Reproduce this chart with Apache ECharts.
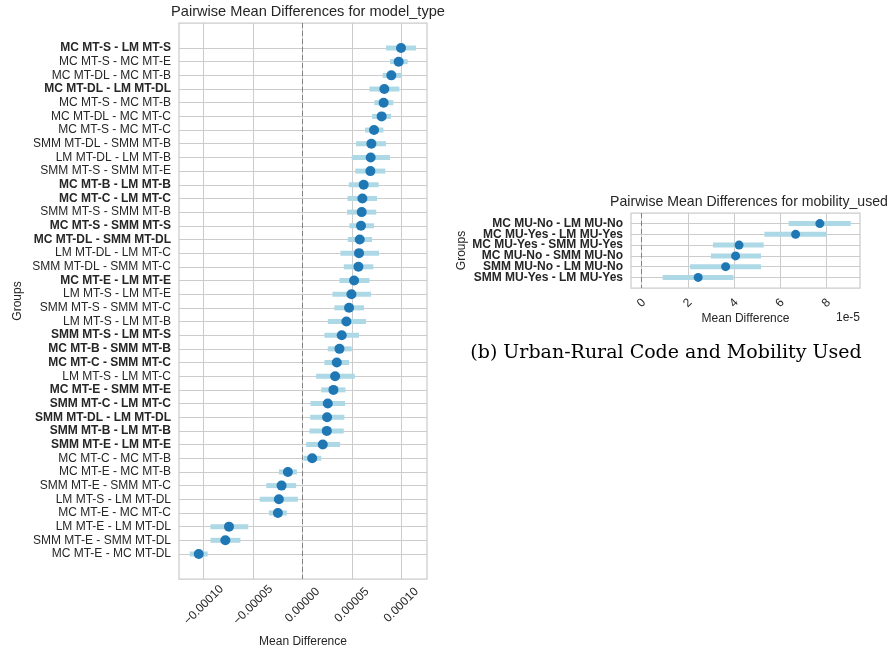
<!DOCTYPE html>
<html>
<head>
<meta charset="utf-8">
<title>Pairwise Mean Differences</title>
<script src="https://cdn.jsdelivr.net/npm/echarts@6/dist/echarts.min.js"></script>
<style>
  html, body { margin: 0; padding: 0; background: #fff; }
  #chart { width: 889px; height: 655px; }
</style>
</head>
<body>
<div id="chart"></div>
<script>
// model_type comparisons (top to bottom)
const modelGroups = [
  'MC MT-S - LM MT-S', 'MC MT-S - MC MT-E', 'MC MT-DL - MC MT-B', 'MC MT-DL - LM MT-DL',
  'MC MT-S - MC MT-B', 'MC MT-DL - MC MT-C', 'MC MT-S - MC MT-C', 'SMM MT-DL - SMM MT-B',
  'LM MT-DL - LM MT-B', 'SMM MT-S - SMM MT-E', 'MC MT-B - LM MT-B', 'MC MT-C - LM MT-C',
  'SMM MT-S - SMM MT-B', 'MC MT-S - SMM MT-S', 'MC MT-DL - SMM MT-DL', 'LM MT-DL - LM MT-C',
  'SMM MT-DL - SMM MT-C', 'MC MT-E - LM MT-E', 'LM MT-S - LM MT-E', 'SMM MT-S - SMM MT-C',
  'LM MT-S - LM MT-B', 'SMM MT-S - LM MT-S', 'MC MT-B - SMM MT-B', 'MC MT-C - SMM MT-C',
  'LM MT-S - LM MT-C', 'MC MT-E - SMM MT-E', 'SMM MT-C - LM MT-C', 'SMM MT-DL - LM MT-DL',
  'SMM MT-B - LM MT-B', 'SMM MT-E - LM MT-E', 'MC MT-C - MC MT-B', 'MC MT-E - MC MT-B',
  'SMM MT-E - SMM MT-C', 'LM MT-S - LM MT-DL', 'MC MT-E - MC MT-C', 'LM MT-E - LM MT-DL',
  'SMM MT-E - SMM MT-DL', 'MC MT-E - MC MT-DL'
];
const modelMean = [
  9.97e-5, 9.73e-5, 8.99e-5, 8.28e-5, 8.21e-5, 8.01e-5, 7.24e-5, 6.97e-5,
  6.90e-5, 6.87e-5, 6.19e-5, 6.06e-5, 5.99e-5, 5.92e-5, 5.79e-5, 5.72e-5,
  5.66e-5, 5.22e-5, 4.95e-5, 4.71e-5, 4.44e-5, 3.97e-5, 3.74e-5, 3.47e-5,
  3.30e-5, 3.13e-5, 2.56e-5, 2.49e-5, 2.46e-5, 2.05e-5, 0.98e-5, -1.48e-5,
  -2.12e-5, -2.39e-5, -2.49e-5, -7.44e-5, -7.81e-5, -10.5e-5
];
const modelLow = [
  8.45e-5, 8.85e-5, 8.11e-5, 6.77e-5, 7.27e-5, 7.04e-5, 6.33e-5, 5.42e-5,
  4.98e-5, 5.35e-5, 4.68e-5, 4.55e-5, 4.51e-5, 4.75e-5, 4.58e-5, 3.84e-5,
  4.18e-5, 3.74e-5, 3.03e-5, 3.23e-5, 2.56e-5, 2.22e-5, 2.56e-5, 2.22e-5,
  1.38e-5, 1.89e-5, 0.81e-5, 0.78e-5, 0.71e-5, 0.37e-5, 0.10e-5, -2.39e-5,
  -3.67e-5, -4.34e-5, -3.40e-5, -9.32e-5, -9.32e-5, -11.41e-5
];
const modelHigh = [
  11.48e-5, 10.64e-5, 9.97e-5, 9.80e-5, 9.19e-5, 8.96e-5, 8.18e-5, 8.45e-5,
  8.86e-5, 8.38e-5, 7.71e-5, 7.54e-5, 7.47e-5, 7.24e-5, 7.04e-5, 7.74e-5,
  7.17e-5, 6.77e-5, 6.94e-5, 6.23e-5, 6.43e-5, 5.72e-5, 4.98e-5, 4.71e-5,
  5.29e-5, 4.34e-5, 4.31e-5, 4.24e-5, 4.17e-5, 3.81e-5, 1.89e-5, -0.57e-5,
  -0.64e-5, -0.47e-5, -1.59e-5, -5.49e-5, -6.29e-5, -9.60e-5
];
const modelTicks = [-0.0001, -0.00005, 0, 0.00005, 0.0001];

// mobility_used comparisons
const mobilityGroups = [
  'MC MU-No - LM MU-No', 'MC MU-Yes - LM MU-Yes', 'MC MU-Yes - SMM MU-Yes',
  'MC MU-No - SMM MU-No', 'SMM MU-No - LM MU-No', 'SMM MU-Yes - LM MU-Yes'
];
const mobilityMean = [7.72e-5, 6.67e-5, 4.22e-5, 4.07e-5, 3.64e-5, 2.45e-5];
const mobilityLow = [6.37e-5, 5.32e-5, 3.09e-5, 3.00e-5, 2.10e-5, 0.91e-5];
const mobilityHigh = [9.06e-5, 8.01e-5, 5.29e-5, 5.17e-5, 5.17e-5, 3.98e-5];
const mobilityTicks = [0, 2e-5, 4e-5, 6e-5, 8e-5];

const FONT = "'Liberation Sans', Arial, sans-serif";
const TXT = '#262626';
const GRID_C = '#cccccc';
const H = 655;

// plot boxes (px): left, right, top, bottom, plus row padding in row units
const boxModel = { left: 179, right: 462, top: 23, bottom: 76, pad: 1.83 };
const boxMob = { left: 631, right: 29, top: 213, bottom: 367, pad: 0.98 };

// bold when both sides share the same level (e.g. MT-S vs MT-S)
function isBold(label) {
  const parts = label.split(' - ');
  return parts[0].split(' ')[1] === parts[1].split(' ')[1];
}
function idx(arr) { return arr.map((_, i) => i); }

// grid that holds only the category labels, one band per row
function labelGrid(box, n) {
  const step = (H - box.top - box.bottom) / (n - 1 + 2 * box.pad);
  const off = (box.pad - 0.5) * step;
  return { left: box.left, right: box.right, top: box.top + off, bottom: box.bottom + off, show: false };
}

function ciItem(params, api) {
  const a = api.coord([api.value(0), api.value(2)]);
  const b = api.coord([api.value(1), api.value(2)]);
  return {
    type: 'line',
    shape: { x1: a[0], y1: a[1], x2: b[0], y2: b[1] },
    style: { stroke: '#add8e6', lineWidth: 5 }
  };
}

function valueY(groups, gridIndex, pad) {
  return {
    type: 'value', gridIndex: gridIndex, inverse: true,
    min: -pad, max: groups.length - 1 + pad,
    axisLine: { show: false },
    axisTick: { show: false, customValues: idx(groups) },
    axisLabel: { show: false, customValues: idx(groups) },
    splitLine: { show: true, lineStyle: { color: GRID_C, width: 1 } }
  };
}

function categoryY(groups, gridIndex, nameGap) {
  return {
    type: 'category', gridIndex: gridIndex, inverse: true, data: groups,
    name: 'Groups', nameLocation: 'middle', nameGap: nameGap,
    nameTextStyle: { fontFamily: FONT, fontSize: 12, color: TXT },
    axisLine: { show: false }, axisTick: { show: false }, splitLine: { show: false },
    axisLabel: {
      interval: 0, margin: 8,
      formatter: s => (isBold(s) ? '{b|' : '{n|') + s + '}',
      rich: {
        n: { fontFamily: FONT, fontSize: 12, color: TXT },
        b: { fontFamily: FONT, fontSize: 12, color: TXT, fontWeight: 'bold' }
      }
    }
  };
}

function valueX(ticks, gridIndex, min, max, fmt, margin, nameGap) {
  return {
    type: 'value', gridIndex: gridIndex, min: min, max: max,
    name: 'Mean Difference', nameLocation: 'middle', nameGap: nameGap,
    nameTextStyle: { fontFamily: FONT, fontSize: 12, color: TXT },
    axisLine: { show: false },
    axisTick: { show: false, customValues: ticks },
    axisLabel: {
      customValues: ticks, rotate: 45, align: 'center', verticalAlign: 'middle',
      showMinLabel: true, showMaxLabel: true,
      margin: margin, fontFamily: FONT, fontSize: 12, color: TXT,
      formatter: fmt
    },
    splitLine: { show: true, lineStyle: { color: GRID_C, width: 1 } }
  };
}
function hiddenX(gridIndex) {
  return { type: 'value', gridIndex: gridIndex, show: false };
}

const zeroLine = {
  silent: true, symbol: 'none', label: { show: false },
  lineStyle: { color: '#808080', type: [5, 3], width: 1 },
  data: [{ xAxis: 0 }]
};

function plotGrid(box) {
  return { left: box.left, right: box.right, top: box.top, bottom: box.bottom, show: true,
    borderColor: GRID_C, borderWidth: 1.25, backgroundColor: 'transparent' };
}

const chart = echarts.init(document.getElementById('chart'));
chart.setOption({
  animation: false,
  backgroundColor: '#ffffff',
  title: [
    { text: 'Pairwise Mean Differences for model_type', left: 303, top: -1, textAlign: 'center',
      textStyle: { fontFamily: FONT, fontSize: 14.6, fontWeight: 'normal', color: TXT } },
    { text: 'Pairwise Mean Differences for mobility_used', left: 744, top: 190, textAlign: 'center',
      textStyle: { fontFamily: FONT, fontSize: 14.1, fontWeight: 'normal', color: TXT } }
  ],
  grid: [
    plotGrid(boxModel),
    plotGrid(boxMob),
    labelGrid(boxModel, modelGroups.length),
    labelGrid(boxMob, mobilityGroups.length)
  ],
  xAxis: [
    valueX(modelTicks, 0, -0.000125, 0.000126,
      v => v.toFixed(5).replace('-', '\u2212'), 26, 57),
    valueX(mobilityTicks, 1, -0.46e-5, 9.46e-5,
      v => String(Math.round(v / 1e-5)), 15, 24),
    hiddenX(2),
    hiddenX(3)
  ],
  yAxis: [
    valueY(modelGroups, 0, boxModel.pad),
    valueY(mobilityGroups, 1, boxMob.pad),
    categoryY(modelGroups, 2, 155),
    categoryY(mobilityGroups, 3, 163)
  ],
  graphic: [
    { type: 'text', x: 860, y: 318,
      style: { text: '1e-5', font: '12px ' + FONT, fill: TXT, textAlign: 'right', textVerticalAlign: 'middle' } },
    { type: 'text', x: 666, y: 353,
      style: { text: '(b) Urban-Rural Code and Mobility Used',
        font: "19px 'DejaVu Serif', serif", fill: '#000', textAlign: 'center', textVerticalAlign: 'middle' } }
  ],
  series: [
    { type: 'custom', xAxisIndex: 0, yAxisIndex: 0, renderItem: ciItem,
      encode: { x: [0, 1], y: 2 },
      data: modelGroups.map((_, i) => [modelLow[i], modelHigh[i], i]),
      markLine: zeroLine, z: 2 },
    { type: 'scatter', xAxisIndex: 0, yAxisIndex: 0, symbolSize: 10,
      itemStyle: { color: '#1f77b4', opacity: 1 },
      data: modelGroups.map((_, i) => [modelMean[i], i]), z: 3 },
    { type: 'custom', xAxisIndex: 1, yAxisIndex: 1, renderItem: ciItem,
      encode: { x: [0, 1], y: 2 },
      data: mobilityGroups.map((_, i) => [mobilityLow[i], mobilityHigh[i], i]),
      markLine: zeroLine, z: 2 },
    { type: 'scatter', xAxisIndex: 1, yAxisIndex: 1, symbolSize: 9,
      itemStyle: { color: '#1f77b4', opacity: 1 },
      data: mobilityGroups.map((_, i) => [mobilityMean[i], i]), z: 3 }
  ]
});
</script>
</body>
</html>
